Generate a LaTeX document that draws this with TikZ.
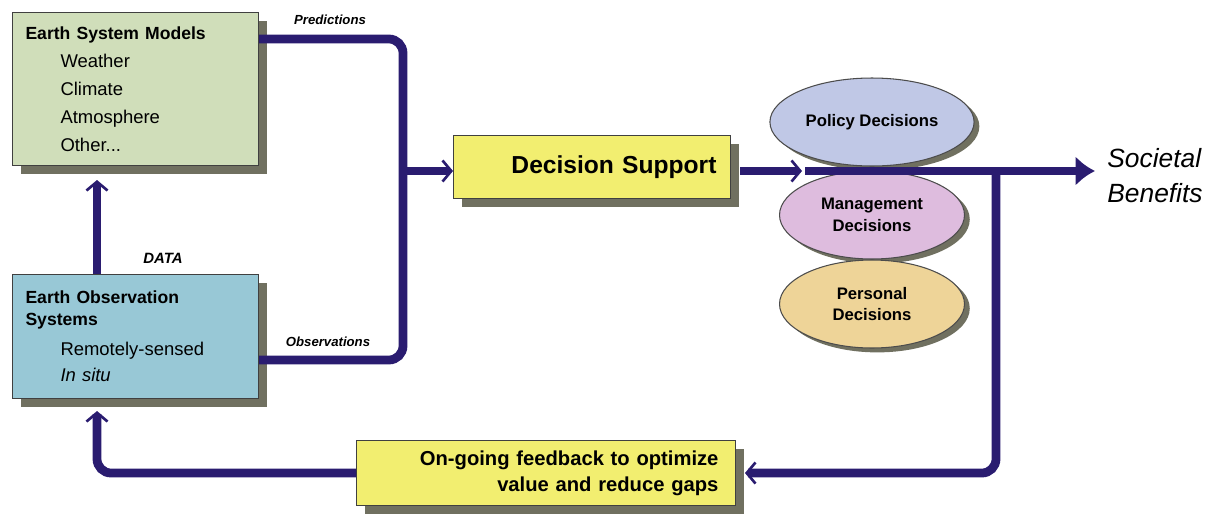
\documentclass[tikz,border=0pt]{standalone}
\usepackage{fontspec}
\setmainfont{Liberation Sans}
\usetikzlibrary{arrows.meta,shapes.geometric,shadows,calc}

\definecolor{flowblue}{RGB}{42,28,112}
\definecolor{esmgreen}{RGB}{208,222,186}
\definecolor{obsblue}{RGB}{152,200,214}
\definecolor{supyellow}{RGB}{242,238,112}
\definecolor{polblue}{RGB}{192,200,230}
\definecolor{mgtpink}{RGB}{222,188,222}
\definecolor{perstan}{RGB}{238,212,152}
\definecolor{shadegrey}{RGB}{112,112,96}

\newcommand{\subentry}[1]{\hspace*{0.7cm}#1}

\tikzstyle{raised}  = [drop shadow={shadow xshift=5pt, shadow yshift=-5pt
                      , fill=shadegrey, opacity=1}]
\tikzstyle{panel}   = [rectangle, draw=black!75, line width=0.6pt
                      , anchor=north west, raised]
\tikzstyle{listing} = [panel, align=left, inner xsep=0.26cm, text width=4.4cm]
\tikzstyle{supbox}  = [panel, fill=supyellow, align=right]
\tikzstyle{choice}  = [ellipse, draw=black!70, line width=0.6pt
                      , drop shadow={shadow xshift=3pt, shadow yshift=-2.5pt
                      , fill=shadegrey, opacity=1}
                      , minimum width=3.7cm, minimum height=1.76cm, align=center
                      , font=\fontsize{9.5}{12.3}\selectfont\bfseries]
\tikzstyle{flow}    = [draw=flowblue, line width=5pt]
\tikzstyle{tag}     = [inner sep=0pt, font=\fontsize{7.5}{9}\selectfont\bfseries\itshape]
\tikzset{chev/.tip={Straight Barb[length=5pt,width=12pt,line width=1.5pt]}}

\begin{document}
\begin{tikzpicture}[x=0.02cm, y=-0.02cm]
\useasboundingbox (0,0) rectangle (1222,518);

%% Earth System Models
\node [listing, fill=esmgreen, minimum height=3.06cm
      , font=\fontsize{10.5}{15.9}\selectfont] (esm) at (12,12)
      {{\fontsize{10}{15.9}\selectfont\bfseries Earth System Models}\\
       \subentry{Weather}\\ \subentry{Climate}\\ \subentry{Atmosphere}\\ \subentry{Other...}};

%% Earth Observation Systems
\node [listing, fill=obsblue, minimum height=2.48cm
      , font=\fontsize{10.5}{12.5}\selectfont] (obs) at (12,274)
      {{\fontsize{10}{12.5}\selectfont\bfseries Earth Observation}\\
       {\fontsize{10}{12.5}\selectfont\bfseries Systems}\\[4.5pt]
       \subentry{Remotely-sensed}\\[2.2pt] \subentry{\textit{In situ}}};

%% Decision Support
\node [supbox, minimum height=1.26cm, text width=4.98cm, inner xsep=0.28cm
      , font=\fontsize{14}{16}\selectfont\bfseries] (ds) at (453,135) {Decision Support};

%% Decisions
\node [choice, fill=polblue] (policy) at (872,122) {Policy Decisions};
\node [choice, fill=mgtpink] (mgmt) at (872,215) {Management\\Decisions};
\node [choice, fill=perstan] (personal) at (872,304) {Personal\\Decisions};

%% Feedback
\node [supbox, minimum height=1.3cm, text width=6.9cm, inner xsep=0.34cm
      , font=\fontsize{11.5}{15}\selectfont\bfseries] (fb) at (356,440)
      {On-going feedback to optimize\\value and reduce gaps};

\node [anchor=west, inner sep=0pt, align=left
      , font=\fontsize{15}{20}\selectfont\itshape] (benefits) at (1107,176) {Societal\\Benefits};

%% Labels
\node [tag] (pred-label) at (330,20) {Predictions};
\node [tag] (obs-label) at (328,342) {Observations};
\node [tag, font=\fontsize{8.5}{10}\selectfont\bfseries\itshape] (data-label) at (163,258) {DATA};

\coordinate (bus) at (403,171);
\coordinate (dcol) at (97,0);
\coordinate (dec) at (802,171);
\coordinate (split) at (996,171);
\coordinate (dsout) at ($(ds.east)+(9,0)$);

%% Connectors
\draw [flow, -chev] (obs.north -| dcol) -- ($(esm.south -| dcol)+(0,14)$);
\draw [flow, rounded corners=8pt] ($(esm.north east)+(0,27)$) -| (bus) |- ($(obs.north east)+(0,86)$);
\draw [flow, -chev] (bus) -- (bus -| ds.west);
\draw [flow, -chev] (dsout |- dec) -- (dec);
\draw [flow, -{Latex[length=11pt,width=17pt]}] ($(dec)+(3,0)$) -- ($(dec -| benefits.west)+(-12,0)$);
\draw [flow, rounded corners=8pt, -chev] (split) |- ($(fb.east)+(9,0)$);
\draw [flow, rounded corners=8pt, -chev] (fb.west) -| ($(obs.south -| dcol)+(0,12)$);

\end{tikzpicture}
\end{document}
